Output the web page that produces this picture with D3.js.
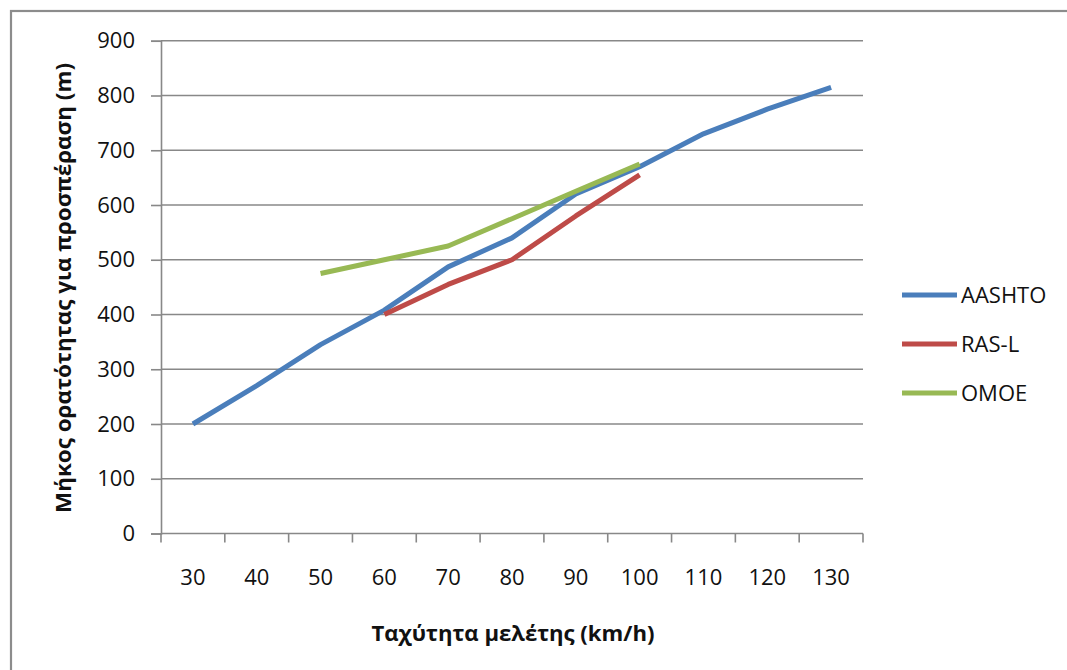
<!DOCTYPE html>
<html>
<head>
<meta charset="utf-8">
<script src="https://cdn.jsdelivr.net/npm/d3@7"></script>
<style>
  html, body { margin: 0; padding: 0; background: #fff; }
  svg { display: block; }
  text { font-family: "Open Sans", "Noto Sans", sans-serif; fill: #111; }
</style>
</head>
<body>
<svg id="chart" width="1067" height="670"></svg>
<script>
// Design speed categories (km/h)
const speeds = ["30", "40", "50", "60", "70", "80", "90", "100", "110", "120", "130"];

// Passing sight distance (m) per standard
const aashto = [200, 270, 345, 408, 487, 540, 620, 670, 730, 775, 815];
const rasL   = [null, null, null, 400, 455, 500, 580, 655, null, null, null];
const omoe   = [null, null, 475, 500, 525, 575, 625, 675, null, null, null];

const seriesNames  = ["AASHTO", "RAS-L", "OMOE"];
const seriesColors = ["#4a7ebb", "#be4b48", "#98b954"];
const yTicks = [0, 100, 200, 300, 400, 500, 600, 700, 800, 900];

const FONT = 22;
const LINE_W = 5;
const svg = d3.select("#chart");

// Outer chart frame
svg.append("rect")
  .attr("x", 11).attr("y", 11)
  .attr("width", 1080).attr("height", 700)
  .attr("fill", "none").attr("stroke", "#8c8c8c").attr("stroke-width", 2.2);

const plot = { left: 161, right: 863, top: 40.75, bottom: 533.5 };

const x = d3.scaleBand().domain(speeds).range([plot.left, plot.right]);
const y = d3.scaleLinear().domain([0, 900]).range([plot.bottom, plot.top]);

// Horizontal gridlines
svg.append("g")
  .selectAll("line")
  .data(yTicks.filter(t => t > 0))
  .join("line")
  .attr("x1", plot.left).attr("x2", plot.right)
  .attr("y1", d => y(d)).attr("y2", d => y(d))
  .attr("stroke", "#888").attr("stroke-width", 1.6);

// Y axis
const yAxis = svg.append("g")
  .attr("transform", `translate(${plot.left},0)`)
  .call(d3.axisLeft(y).tickValues(yTicks).tickSize(10).tickPadding(16));
yAxis.select(".domain").attr("stroke", "#888").attr("stroke-width", 1.6);
yAxis.selectAll(".tick line").attr("stroke", "#888").attr("stroke-width", 1.6);
yAxis.selectAll(".tick text")
  .style("font-family", "'Open Sans', 'Noto Sans', sans-serif")
  .style("font-size", FONT + "px").attr("fill", "#111");

// X axis: ticks on category boundaries, labels at category centres
const xAxis = svg.append("g").attr("transform", `translate(0,${plot.bottom})`);
xAxis.append("line")
  .attr("x1", plot.left).attr("x2", plot.right)
  .attr("stroke", "#888").attr("stroke-width", 1.6);
const bounds = speeds.map(s => x(s)).concat([x(speeds[speeds.length - 1]) + x.bandwidth()]);
xAxis.selectAll(".xt")
  .data(bounds)
  .join("line")
  .attr("class", "xt")
  .attr("x1", d => d).attr("x2", d => d)
  .attr("y1", 0).attr("y2", 9)
  .attr("stroke", "#888").attr("stroke-width", 1.6);
xAxis.selectAll(".xl")
  .data(speeds)
  .join("text")
  .attr("class", "xl")
  .attr("x", d => x(d) + x.bandwidth() / 2)
  .attr("y", 51)
  .attr("text-anchor", "middle")
  .style("font-size", FONT + "px")
  .text(d => d);

// Axis titles
svg.append("text")
  .attr("x", 513)
  .attr("y", 641)
  .attr("text-anchor", "middle")
  .attr("textLength", 283).attr("lengthAdjust", "spacingAndGlyphs")
  .style("font-size", FONT + "px").style("font-weight", "bold")
  .text("Ταχύτητα μελέτης (km/h)");

svg.append("text")
  .attr("transform", "translate(71,288) rotate(-90)")
  .attr("text-anchor", "middle")
  .attr("textLength", 450).attr("lengthAdjust", "spacingAndGlyphs")
  .style("font-size", FONT + "px").style("font-weight", "bold")
  .text("Μήκος ορατότητας για προσπέραση (m)");

// Series lines
const allSeries = [aashto, rasL, omoe];
const line = d3.line()
  .defined(d => d.v !== null)
  .x(d => x(d.k) + x.bandwidth() / 2)
  .y(d => y(d.v));

allSeries.forEach((vals, i) => {
  const pts = speeds.map((k, j) => ({ k, v: vals[j] }));
  svg.append("path")
    .datum(pts)
    .attr("fill", "none")
    .attr("stroke", seriesColors[i])
    .attr("stroke-width", LINE_W)
    .attr("stroke-linejoin", "round")
    .attr("d", line);
});

// Legend
const legend = svg.append("g");
seriesNames.forEach((name, i) => {
  const ly = 295 + i * 49;
  legend.append("line")
    .attr("x1", 902).attr("x2", 957)
    .attr("y1", ly).attr("y2", ly)
    .attr("stroke", seriesColors[i]).attr("stroke-width", LINE_W);
  legend.append("text")
    .attr("x", 961).attr("y", ly + 8)
    .style("font-size", FONT + "px")
    .text(name);
});
</script>
</body>
</html>
